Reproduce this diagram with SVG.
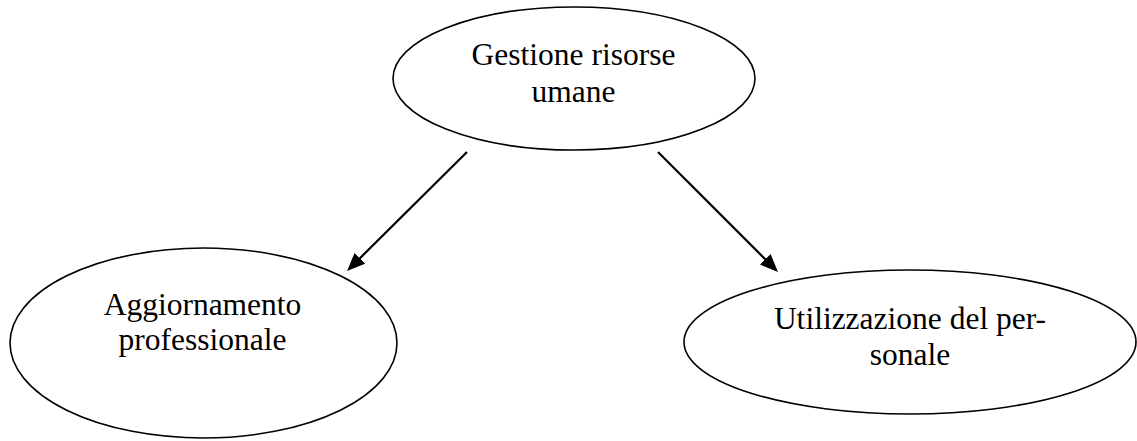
<svg xmlns="http://www.w3.org/2000/svg" width="1137" height="441" viewBox="0 0 1137 441">
<style>
.node ellipse{fill:#fff;stroke:#000;stroke-width:1.6}
.node text{font-family:"Liberation Serif","Times New Roman",serif;font-size:31.5px;fill:#000;text-anchor:middle}
.conn line{stroke:#000;stroke-width:2.2}
</style>
<defs>
<marker id="arr" viewBox="0 0 18 15" markerWidth="18" markerHeight="15" markerUnits="userSpaceOnUse" refX="4" refY="7.5" orient="auto">
<path d="M0,0 L18,7.5 L0,15 z" fill="#000"/>
</marker>
</defs>
<rect width="1137" height="441" fill="#fff"/>
<g id="node-gestione" class="node">
<ellipse cx="574" cy="78.5" rx="181" ry="71.5"/>
<text x="573.5" y="65">Gestione risorse</text>
<text x="573.5" y="101.5">umane</text>
</g>
<g id="node-aggiornamento" class="node">
<ellipse cx="203.5" cy="343" rx="193.5" ry="95"/>
<text x="202.5" y="315">Aggiornamento</text>
<text x="202.5" y="350">professionale</text>
</g>
<g id="node-utilizzazione" class="node">
<ellipse cx="910" cy="342" rx="226" ry="72"/>
<text x="910" y="329">Utilizzazione del per-</text>
<text x="910" y="365">sonale</text>
</g>
<g id="connectors" class="conn">
<line x1="467" y1="152" x2="357" y2="261.1" marker-end="url(#arr)"/>
<line x1="658" y1="152" x2="768.1" y2="262.1" marker-end="url(#arr)"/>
</g>
</svg>
